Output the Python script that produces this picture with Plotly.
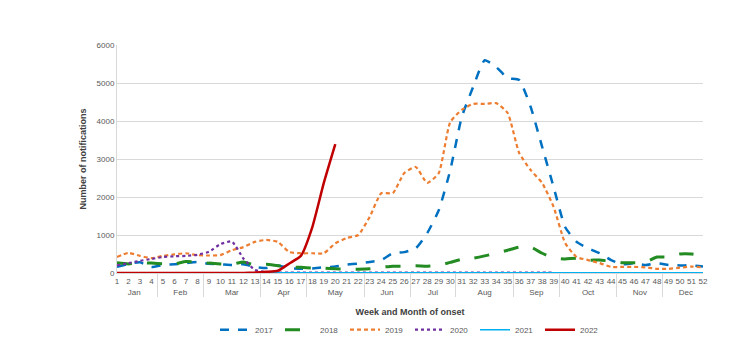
import plotly.graph_objects as go

weeks = [str(w) for w in range(1, 53)]
month_spans = [("Jan", 4), ("Feb", 4), ("Mar", 5), ("Apr", 4), ("May", 5), ("Jun", 4),
               ("Jul", 4), ("Aug", 5), ("Sep", 4), ("Oct", 5), ("Nov", 4), ("Dec", 4)]
months = [m for m, n in month_spans for _ in range(n)]

y2017 = [160, 240, 280, 160, 210, 230, 260, 290, 240, 230, 210, 230, 160, 130, 200, 130, 110,
         120, 150, 170, 220, 250, 290, 340, 520, 550, 650, 1050, 1650, 2700, 4100, 4900,
         5600, 5420, 5130, 5080, 4370, 3320, 2260, 1210, 820, 650, 520, 340, 230, 260, 210,
         260, 210, 200, 200, 170]
y2018 = [270, 240, 270, 260, 240, 240, 300, 290, 260, 240, 230, 290, 210, 230, 190, 160, 150,
         130, 130, 110, 100, 100, 110, 150, 180, 180, 190, 180, 200, 280, 360, 390, 450,
         520, 600, 680, 680, 520, 400, 370, 390, 340, 340, 310, 270, 270, 290, 420, 420,
         500, 500, 450]
y2019 = [420, 530, 450, 390, 450, 490, 520, 470, 460, 470, 600, 680, 820, 870, 820, 550, 520,
         520, 520, 780, 920, 1000, 1480, 2100, 2100, 2630, 2790, 2370, 2630, 3970, 4290,
         4450, 4450, 4470, 4210, 3160, 2710, 2370, 1740, 790, 420, 340, 260, 160, 160, 160,
         150, 110, 110, 140, 170, 150]
y2020 = [200, 260, 320, 370, 420, 440, 450, 480, 560, 760, 830, 380, 80, 20, 10, 10, 10,
         10, 10, 10, 10, 10, 10, 10, 10, 10, 10, 10, 10, 10, 10, 10, 10, 10, 10, 10, 10,
         10, 10]
y2021 = [5] * 52
y2022 = [0, 0, 0, 0, 0, 0, 0, 0, 0, 0, 0, 0, 10, 30, 60, 250, 450, 1210, 2370, 3390]

series = [
    ("2017", y2017, "#0070C0", "dash", 2.5),
    ("2018", y2018, "#228B22", "longdash", 3),
    ("2019", y2019, "#ED7D31", "4px,3px", 2.2),
    ("2020", y2020, "#7030A0", "dot", 2.2),
    ("2021", y2021, "#00B0F0", "solid", 1.5),
    ("2022", y2022, "#C00000", "solid", 2.5),
]

fig = go.Figure()
for name, ys, color, dash, w in series:
    n = len(ys)
    fig.add_trace(go.Scatter(
        x=[months[:n], weeks[:n]], y=ys, name=name, mode="lines",
        line=dict(color=color, dash=dash, width=w, shape="spline", smoothing=0.5),
    ))

font = "Liberation Sans, Arial, sans-serif"
fig.update_layout(
    width=738, height=355,
    margin=dict(l=109, r=43, t=37, b=90, autoexpand=False),
    paper_bgcolor="white", plot_bgcolor="white",
    font=dict(family=font, size=8, color="#595959"),
    showlegend=True,
    legend=dict(orientation="h", x=0.5, xanchor="center", y=-0.185, yanchor="top",
                font=dict(size=8, color="#595959"), itemwidth=30,
                entrywidth=20, entrywidthmode="pixels", tracegroupgap=0),
    xaxis=dict(type="multicategory", showgrid=False, showline=True, linecolor="#d9d9d9",
               tickfont=dict(size=8, color="#595959"), tickangle=0, showdividers=True,
               dividercolor="#d9d9d9", dividerwidth=1, ticks="", automargin=False,
               title=dict(text="<b>Week and Month of onset</b>", standoff=13,
                          font=dict(size=9, color="#404040"))),
    yaxis=dict(range=[0, 6000], dtick=1000, showgrid=True, gridcolor="#d9d9d9",
               showline=True, linecolor="#d9d9d9", zeroline=False, ticks="",
               tickfont=dict(size=8, color="#595959"), automargin=False,
               title=dict(text="<b>Number of notifications</b>", standoff=8,
                          font=dict(size=9, color="#404040"))),
)

fig.write_html("out.html")
